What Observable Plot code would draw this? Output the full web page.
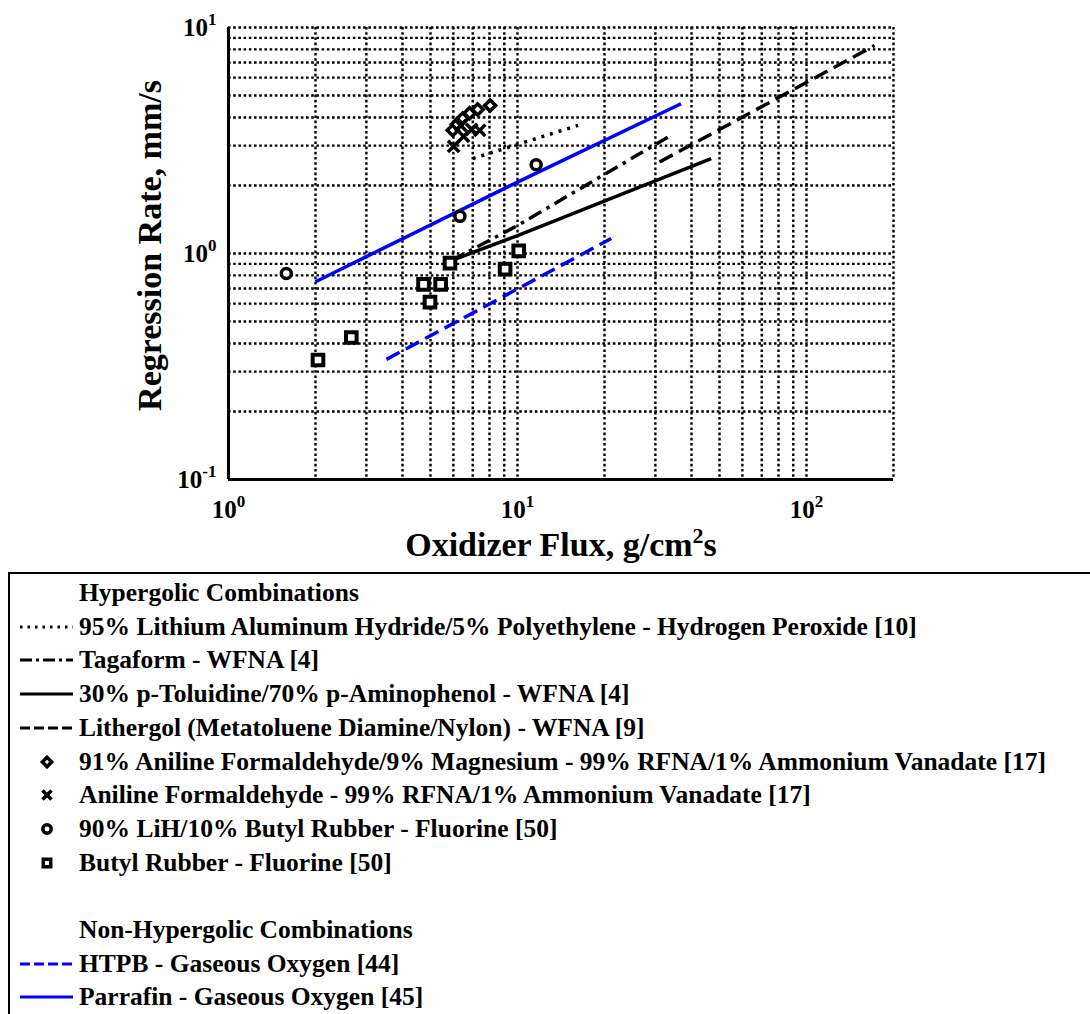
<!DOCTYPE html>
<html><head><meta charset="utf-8">
<script src="https://cdn.jsdelivr.net/npm/d3@7"></script>
<script src="https://cdn.jsdelivr.net/npm/@observablehq/plot@0.6"></script>
<style>
html,body{margin:0;padding:0;background:#fff;overflow:hidden;width:1090px;height:1014px;font-family:'Liberation Serif',serif;}
#chart svg{display:block}
#legend{position:absolute;left:8px;top:572px;width:1200px;height:520px;border:2px solid #000;box-sizing:border-box;color:#000;}
.row{position:absolute;left:0;height:30px;display:flex;align-items:center;white-space:nowrap;}
.row svg{flex:none;}
</style></head>
<body>
<div id="chart"></div>
<div id="legend"></div>
<script>
// ---------------- data ----------------
// Lines: oxidizer flux (g/cm^2 s) and regression rate (mm/s)
const lahPeFlux   = [7.0, 16.2];
const lahPeRate   = [2.63, 3.69];
const tagaFlux    = [5.9, 10, 33.1];
const tagaRate    = [0.93, 1.33, 3.27];
const toluFlux    = [5.9, 10, 46.8];
const toluRate    = [0.93, 1.2, 2.63];
const lithFlux    = [31, 172];
const lithRate    = [2.54, 8.32];
const htpbFlux    = [3.52, 21.1];
const htpbRate    = [0.34, 1.165];
const paraFlux    = [2.0, 10, 36.8];
const paraRate    = [0.75, 2.07, 4.6];
// Points
const afMgFlux    = [5.97, 6.17, 6.46, 6.83, 7.28, 8.04];
const afMgRate    = [3.51, 3.73, 3.96, 4.17, 4.34, 4.52];
const afFlux      = [6.01, 6.36, 6.51, 6.94, 7.40];
const afRate      = [2.98, 3.69, 3.30, 3.54, 3.51];
const lihFlux     = [1.585, 6.32, 11.6];
const lihRate     = [0.816, 1.46, 2.47];
const butylFlux   = [2.04, 2.66, 4.73, 4.98, 5.42, 5.84, 9.06, 10.1];
const butylRate   = [0.338, 0.425, 0.73, 0.609, 0.73, 0.906, 0.853, 1.027];
// Axis ticks
const xMajor = [1, 10, 100];
const yMajor = [0.1, 1, 10];
const xGrid = [1,2,3,4,5,6,7,8,9,10,20,30,40,50,60,70,80,90,100,200];
const yGrid = [0.1,0.2,0.3,0.4,0.5,0.6,0.7,0.8,0.9,1,2,3,4,5,6,7,8,9,10];
const xTitle = "Oxidizer Flux, g/cm2s";
const yTitle = "Regression Rate, mm/s";
const legendHeads = ["Hypergolic Combinations", "Non-Hypergolic Combinations"];
const legendLabels = [
  "95% Lithium Aluminum Hydride/5% Polyethylene - Hydrogen Peroxide [10]",
  "Tagaform - WFNA [4]",
  "30% p-Toluidine/70% p-Aminophenol - WFNA [4]",
  "Lithergol (Metatoluene Diamine/Nylon) - WFNA [9]",
  "91% Aniline Formaldehyde/9% Magnesium - 99% RFNA/1% Ammonium Vanadate [17]",
  "Aniline Formaldehyde - 99% RFNA/1% Ammonium Vanadate [17]",
  "90% LiH/10% Butyl Rubber - Fluorine [50]",
  "Butyl Rubber - Fluorine [50]",
  "HTPB - Gaseous Oxygen [44]",
  "Parrafin - Gaseous Oxygen [45]"
];

// ---------------- styles ----------------
const pts = (xs, ys) => d3.zip(xs, ys);
const lineStyles = [
  {data: pts(lahPeFlux, lahPeRate), stroke: "#000", dash: "3,6", legendDash: "2.5,5", w: 3.5},
  {data: pts(tagaFlux, tagaRate), stroke: "#000", dash: "14,6,3.5,6", legendDash: "12,4,3,4", w: 3.5},
  {data: pts(toluFlux, toluRate), stroke: "#000", dash: null, legendDash: null, w: 3.5},
  {data: pts(lithFlux, lithRate), stroke: "#000", dash: "15,7", legendDash: "10,4", w: 3.5},
  {data: pts(htpbFlux, htpbRate), stroke: "#0000ff", dash: "15,7", legendDash: "10,4", w: 3.5},
  {data: pts(paraFlux, paraRate), stroke: "#0000ff", dash: null, legendDash: null, w: 3.5}
];
const dotStyles = [
  {data: pts(afMgFlux, afMgRate), symbol: "diamond2", r: 5, sw: 3.5},
  {data: pts(afFlux, afRate), symbol: "times", r: 5.2, sw: 3.5},
  {data: pts(lihFlux, lihRate), symbol: "circle", r: 5, sw: 3.5},
  {data: pts(butylFlux, butylRate), symbol: "square", r: 6, sw: 4}
];
const font = "Liberation Serif, Times New Roman, serif";
const gridStyle = {stroke: "#000", strokeOpacity: 1, strokeWidth: 2.4, strokeDasharray: "2.6,2.6"};

const plot = Plot.plot({
  width: 1090, height: 565,
  marginLeft: 228, marginRight: 197, marginTop: 27, marginBottom: 86,
  style: {fontFamily: font, background: "white", color: "#000", overflow: "visible"},
  x: {type: "log", domain: [1, 200]},
  y: {type: "log", domain: [0.1, 10]},
  marks: [
    Plot.gridX(xGrid, gridStyle),
    Plot.gridY(yGrid, gridStyle),
    Plot.ruleX([1], {stroke: "#000", strokeWidth: 3}),
    Plot.ruleY([0.1], {stroke: "#000", strokeWidth: 3}),
    ...lineStyles.map(s => Plot.line(s.data, {x: d => d[0], y: d => d[1], stroke: s.stroke,
        strokeWidth: s.w, strokeDasharray: s.dash, strokeLinecap: "butt"})),
    ...dotStyles.map(s => Plot.dot(s.data, {x: d => d[0], y: d => d[1], symbol: s.symbol, r: s.r,
        stroke: "#000", strokeWidth: s.sw, fill: "white"})),
    Plot.axisX({ticks: xMajor, tickSize: 0, tickPadding: 21, label: null, fontSize: 25, fontWeight: "bold",
        tickFormat: d => String(Math.round(Math.log10(d)))}),
    Plot.axisY({ticks: yMajor, tickSize: 0, tickPadding: 12, label: null, fontSize: 25, fontWeight: "bold",
        tickFormat: d => String(Math.round(Math.log10(d)))}),
    Plot.text([xTitle], {frameAnchor: "bottom", textAnchor: "middle", lineAnchor: "middle", dy: 66,
        fontSize: 34, fontWeight: "bold", text: d => d}),
    Plot.text([yTitle], {frameAnchor: "left", textAnchor: "middle", lineAnchor: "middle", dx: -78, dy: -8,
        rotate: -90, fontSize: 34, fontWeight: "bold", text: d => d})
  ]
});
document.getElementById("chart").appendChild(plot);

// superscripts for tick labels "10^k"
d3.select(plot).selectAll('g[aria-label="x-axis tick label"] text, g[aria-label="y-axis tick label"] text').each(function() {
  const e = this.textContent;
  const t = d3.select(this);
  t.text(null);
  t.append("tspan").text("10");
  t.append("tspan").attr("dy", "-11").attr("font-size", "17").text(e);
});
// superscript for the "2" in the x title
d3.select(plot).selectAll("text").filter(function() { return this.textContent === xTitle; }).each(function() {
  const t = d3.select(this);
  t.text(null);
  t.append("tspan").text("Oxidizer Flux, g/cm");
  t.append("tspan").attr("dy", "-13").attr("font-size", "22").text("2");
  t.append("tspan").attr("dy", "13").text("s");
});

// ---------------- legend ----------------
const legend = d3.select("#legend");
const rowCenters = [593, 626.7, 660.4, 694.1, 727.8, 761.5, 795.2, 828.9, 862.6, 930, 963.7, 997.4];
const entries = [
  {head: legendHeads[0]},
  {label: legendLabels[0], line: lineStyles[0]},
  {label: legendLabels[1], line: lineStyles[1]},
  {label: legendLabels[2], line: lineStyles[2]},
  {label: legendLabels[3], line: lineStyles[3]},
  {label: legendLabels[4], dot: dotStyles[0]},
  {label: legendLabels[5], dot: dotStyles[1]},
  {label: legendLabels[6], dot: dotStyles[2]},
  {label: legendLabels[7], dot: dotStyles[3]},
  {head: legendHeads[1]},
  {label: legendLabels[8], line: lineStyles[4]},
  {label: legendLabels[9], line: lineStyles[5]}
];
const symbolMap = {diamond2: d3.symbolDiamond2, times: d3.symbolTimes, circle: d3.symbolCircle, square: d3.symbolSquare};
entries.forEach((e, i) => {
  const row = legend.append("div").attr("class", "row").style("top", (rowCenters[i] - 572 - 2 - 15) + "px");
  const sv = row.append("svg").attr("width", 69).attr("height", 30);
  if (e.line) {
    sv.append("line").attr("x1", 10).attr("x2", 63).attr("y1", 15).attr("y2", 15)
      .attr("stroke", e.line.stroke).attr("stroke-width", 3)
      .attr("stroke-dasharray", e.line.legendDash || null);
  }
  if (e.dot) {
    sv.append("path").attr("transform", "translate(37,15)")
      .attr("d", d3.symbol(symbolMap[e.dot.symbol], Math.PI * 4.2 * 4.2)())
      .attr("fill", "white").attr("stroke", "#000").attr("stroke-width", 3.5);
  }
  row.append("span")
    .style("font-family", "'Liberation Serif', 'Times New Roman', serif")
    .style("font-weight", "bold").style("font-size", "25.5px")
    .text(e.head || e.label);
});
</script>
</body></html>
